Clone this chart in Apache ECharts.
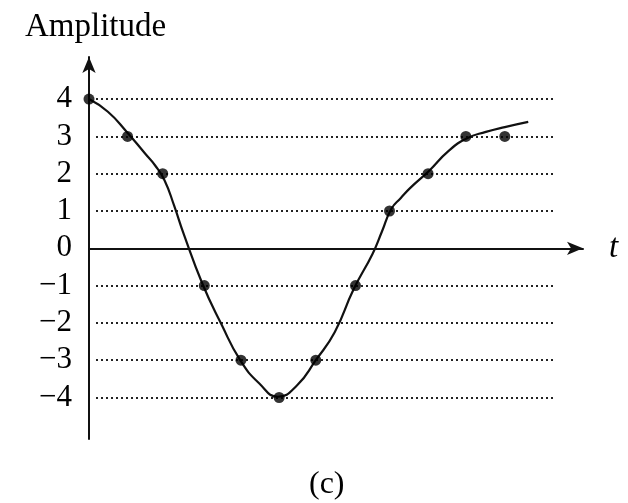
<!DOCTYPE html>
<html>
<head>
<meta charset="utf-8">
<script src="https://cdn.jsdelivr.net/npm/echarts@6/dist/echarts.min.js"></script>
<style>
html,body{margin:0;padding:0;background:#fff;}
#chart{width:628px;height:503px;}
</style>
</head>
<body>
<div id="chart"></div>
<script>
// Sample points (time, amplitude)
var sampleT = [0, 1.02, 1.95, 3.05, 4.02, 5.03, 6, 7.05, 7.95, 8.97, 9.97, 11];
var sampleV = [4, 3, 2, -1, -3, -4, -3, -1, 1, 2, 3, 3];
// Continuous curve
var curveT = [0, 0.5, 1.0, 1.5, 1.75, 2.0, 2.25, 2.5, 3.0, 3.5, 4.0, 4.5, 5.0, 5.5, 6.0, 6.5, 7.0, 7.5, 7.75, 8.0, 8.25, 8.5, 9.0, 9.5, 10.0, 10.5, 11.0, 11.62];
var curveV = [4, 3.66, 3.12, 2.52, 2.22, 1.82, 1.15, 0.4, -0.95, -2.03, -3.0, -3.62, -3.98, -3.68, -3.0, -2.25, -1.1, -0.15, 0.45, 1.06, 1.35, 1.62, 2.08, 2.6, 2.95, 3.12, 3.25, 3.39];
var yTicks = [-4, -3, -2, -1, 0, 1, 2, 3, 4];

var FONT = '"Liberation Serif", "DejaVu Serif", serif';
var unitX = 37.8, unitY = 37.3;
var originX = 89, originY = 248.3;
var mainTop = 57, mainBottom = 439, mainRight = 583;

var chart = echarts.init(document.getElementById('chart'), null, {renderer: 'canvas'});
var option = {
  backgroundColor: '#fff',
  animation: false,
  title: [
    {text: 'Amplitude', left: 20, top: 6, textStyle: {fontFamily: FONT, fontSize: 33, fontWeight: 'normal', color: '#000'}},
    {text: '(c)', left: 304, top: 464, textStyle: {fontFamily: FONT, fontSize: 32, fontWeight: 'normal', color: '#000'}}
  ],
  grid: [
    {left: originX, top: mainTop, width: mainRight - originX, height: mainBottom - mainTop, containLabel: false},
    {left: 96, top: originY - 4 * unitY, width: 555 - 96, height: 8 * unitY, containLabel: false}
  ],
  xAxis: [
    {
      type: 'value', gridIndex: 0, min: 0, max: (mainRight - originX) / unitX,
      axisLine: {show: true, onZero: true, symbol: ['none', 'arrow'], symbolSize: [10, 16], lineStyle: {color: '#111', width: 2}},
      axisTick: {show: false}, axisLabel: {show: false}, splitLine: {show: false},
      name: 't', nameLocation: 'end', nameGap: 26,
      nameTextStyle: {fontFamily: FONT, fontStyle: 'italic', fontSize: 33, color: '#000', verticalAlign: 'middle', padding: [0, 0, 0, 0]}
    },
    {type: 'value', gridIndex: 1, min: 0, max: 1, show: false}
  ],
  yAxis: [
    {
      type: 'value', gridIndex: 0,
      min: -(mainBottom - originY) / unitY, max: (originY - mainTop) / unitY,
      axisLine: {show: true, onZero: true, symbol: ['none', 'arrow'], symbolSize: [10, 16], lineStyle: {color: '#111', width: 2}},
      axisTick: {show: false}, axisLabel: {show: false}, splitLine: {show: false}
    },
    {
      type: 'value', gridIndex: 1, min: yTicks[0], max: yTicks[yTicks.length - 1], interval: 1,
      axisLine: {show: false}, axisTick: {show: false},
      axisLabel: {
        margin: 24, fontFamily: FONT, fontSize: 31, color: '#000',
        formatter: function (v) { return yTicks.indexOf(v) >= 0 ? String(v).replace('-', '\u2212') : ''; }
      },
      splitLine: {show: true, lineStyle: {type: [2, 3], color: '#222', width: 2}}
    }
  ],
  series: [
    {
      type: 'line', xAxisIndex: 0, yAxisIndex: 0,
      data: curveT.map(function (t, i) { return [t, curveV[i]]; }),
      smooth: 0.5, showSymbol: false, symbol: 'none',
      lineStyle: {color: '#111', width: 2.2}, z: 3
    },
    {
      type: 'scatter', xAxisIndex: 0, yAxisIndex: 0,
      data: sampleT.map(function (t, i) { return [t, sampleV[i]]; }),
      symbol: 'circle', symbolSize: 11,
      itemStyle: {color: '#000'}, z: 4
    }
  ]
};
chart.setOption(option);
</script>
</body>
</html>
